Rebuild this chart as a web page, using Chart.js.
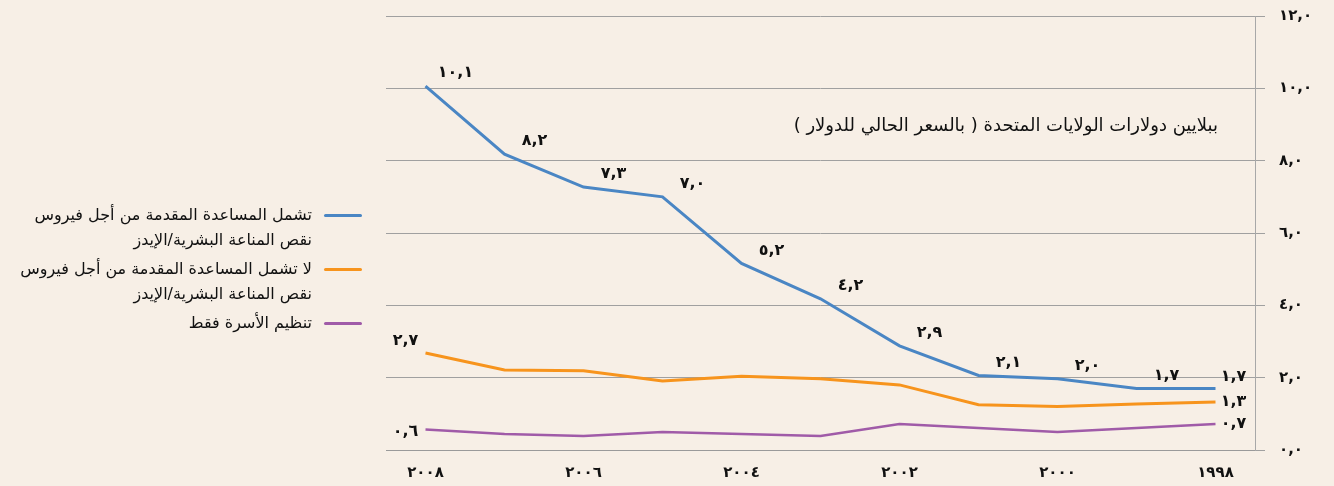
<!DOCTYPE html>
<html lang="ar">
<head>
<meta charset="utf-8">
<script src="https://cdn.jsdelivr.net/npm/chart.js@4.4.1/dist/chart.umd.min.js"></script>
<style>
  body { margin: 0; background: #f7efe6; }
  #wrap { position: relative; width: 1334px; height: 486px; }
  #legend { position: absolute; left: 0; top: 202px; width: 362px;
    font-family: "DejaVu Sans", sans-serif; font-size: 16px; color: #111; }
  .item { display: flex; flex-direction: row; justify-content: flex-end; align-items: flex-start; margin-bottom: 4px; }
  .swatch { width: 38px; height: 3px; margin-top: 12px; margin-left: 12px; flex: none; border-radius: 2px; }
  .txt { direction: rtl; white-space: pre-line; line-height: 25px; text-align: right; }
  #unit { position: absolute; right: 116px; top: 114px; direction: rtl;
    font-family: "DejaVu Sans", sans-serif; font-size: 18px; color: #111; }
</style>
</head>
<body>
<div id="wrap">
  <canvas id="aid-chart" width="1334" height="486"></canvas>
  <div id="legend"></div>
  <div id="unit"></div>
</div>
<script>
// years, newest first (as drawn left to right)
const years = ['2008', '2007', '2006', '2005', '2004', '2003', '2002', '2001', '2000', '1999', '1998'];

// series names
const seriesNames = [
  'تشمل المساعدة المقدمة من أجل فيروس\nنقص المناعة البشرية/الإيدز',
  'لا تشمل المساعدة المقدمة من أجل فيروس\nنقص المناعة البشرية/الإيدز',
  'تنظيم الأسرة فقط'
];

// values in billions of US dollars
const withHiv = [10.06, 8.18, 7.27, 7.0, 5.16, 4.18, 2.88, 2.06, 1.97, 1.7, 1.7];
const withoutHiv = [2.68, 2.21, 2.19, 1.91, 2.04, 1.97, 1.8, 1.25, 1.2, 1.27, 1.33];
const familyPlanning = [0.57, 0.44, 0.39, 0.5, 0.44, 0.39, 0.72, 0.61, 0.5, 0.61, 0.72];

const yTicks = [0, 2, 4, 6, 8, 10, 12];
const unitText = 'ببلايين دولارات الولايات المتحدة ( بالسعر الحالي للدولار )';

const colors = ['#4a86c4', '#f7941d', '#a05ba8'];

// western digits -> arabic-indic digits
function arabicDigits(str) {
  return String(str).replace(/[0-9]/g, d => '٠١٢٣٤٥٦٧٨٩'[d]).replace('.', ',');
}

// legend + unit text
const legend = document.getElementById('legend');
seriesNames.forEach((name, i) => {
  const item = document.createElement('div');
  item.className = 'item';
  item.innerHTML = '<div class="txt"></div><div class="swatch"></div>';
  item.querySelector('.txt').textContent = name;
  item.querySelector('.swatch').style.background = colors[i];
  legend.appendChild(item);
});
document.getElementById('unit').textContent = unitText;

// value labels next to the lines
const valueLabels = {
  id: 'valueLabels',
  afterDatasetsDraw(chart) {
    const ctx = chart.ctx;
    ctx.save();
    ctx.font = 'bold 16px "DejaVu Sans", sans-serif';
    ctx.fillStyle = '#111';
    ctx.textAlign = 'center';
    ctx.textBaseline = 'middle';
    chart.data.datasets.forEach((ds, di) => {
      const meta = chart.getDatasetMeta(di);
      const last = ds.data.length - 1;
      meta.data.forEach((pt, i) => {
        let dx, dy;
        if (di === 0) {
          if (i === last) { dx = 18; dy = -12; } else { dx = 30; dy = -13; }
        } else {
          if (i === 0) { dx = -20; dy = di === 1 ? -12 : 2; }
          else if (i === last) { dx = 18; dy = 0; }
          else return;
        }
        ctx.fillText(arabicDigits(ds.data[i].toFixed(1)), pt.x + dx, pt.y + dy);
      });
    });
    ctx.restore();
  }
};

const tickFont = { family: '"DejaVu Sans", sans-serif', size: 15, weight: 'bold' };

new Chart(document.getElementById('aid-chart'), {
  type: 'line',
  data: {
    labels: years,
    datasets: [withHiv, withoutHiv, familyPlanning].map((d, i) => ({
      label: seriesNames[i],
      data: d,
      borderColor: colors[i],
      borderWidth: i === 2 ? 2.5 : 3,
      pointRadius: 0,
      tension: 0,
      fill: false
    }))
  },
  options: {
    responsive: false,
    animation: false,
    layout: { padding: { left: 386, top: 16, right: 0, bottom: 0 } },
    plugins: { legend: { display: false }, tooltip: { enabled: false } },
    scales: {
      x: {
        offset: true,
        grid: { display: false },
        border: { color: '#9a9a9a', width: 1 },
        ticks: {
          color: '#111',
          font: tickFont,
          autoSkip: false,
          maxRotation: 0,
          padding: 6,
          callback: (v, i) => i % 2 === 0 ? arabicDigits(years[i]) : ''
        },
        afterFit: s => { s.height = 36; s.paddingLeft = 0; s.paddingRight = 0; }
      },
      y: {
        position: 'right',
        min: 0,
        max: 12,
        afterBuildTicks: s => { s.ticks = yTicks.map(v => ({ value: v })); },
        grid: { color: '#a0a0a0', lineWidth: 1, tickLength: 10 },
        border: { color: '#a8a8a8', width: 1 },
        ticks: {
          color: '#111',
          font: tickFont,
          padding: 14,
          callback: v => arabicDigits(v.toFixed(1))
        },
        afterFit: s => { s.width = 79; s.paddingTop = 0; s.paddingBottom = 0; }
      }
    }
  },
  plugins: [valueLabels]
});
</script>
</body>
</html>
